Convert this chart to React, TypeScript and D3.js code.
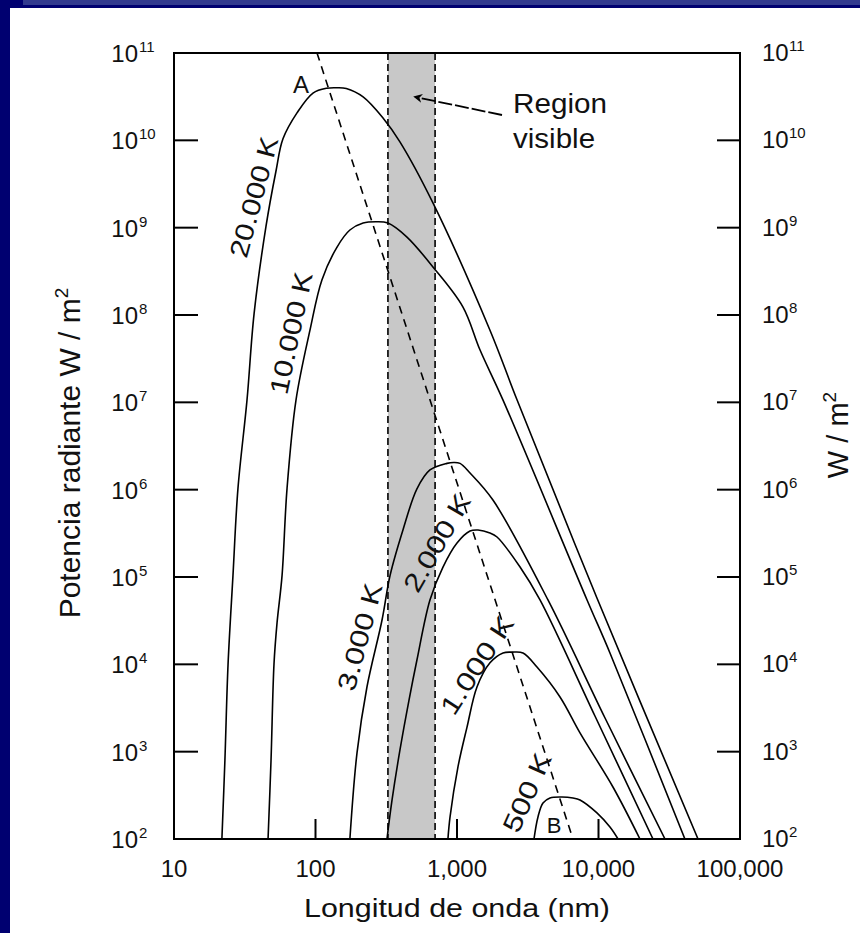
import React from 'react';
import * as d3 from 'd3';

const W = 860;
const H = 933;
const M = { left: 174, right: 740, top: 53, bottom: 839 };

const xTicks = [10, 100, 1000, 10000, 100000];
const xTickLabels = ['10', '100', '1,000', '10,000', '100,000'];
const yExponents = [2, 3, 4, 5, 6, 7, 8, 9, 10, 11];

// [wavelength nm, radiant power W/m2]
const curve20000: [number, number][] = [
  [21.8, 1e2], [22.9, 8.0e2], [24.1, 1.0e4], [26.1, 1.03e5], [28.3, 1.02e6], [32.8, 1.06e7],
  [36.8, 1.03e8], [44.7, 1.04e9], [52.5, 4.4e9], [58.9, 1.04e10], [74, 2.06e10], [96, 3.48e10],
  [120, 3.95e10], [142, 4.0e10], [165, 3.92e10], [217, 3.14e10], [300, 1.8e10], [395, 9.6e9],
  [676, 1.92e9], [1710, 6.7e7], [2655, 1.07e7], [9750, 5.75e4], [50500, 1e2],
];
const curve10000: [number, number][] = [
  [46.2, 1e2], [48.5, 8.0e2], [50.9, 1.01e4], [53.5, 3.0e4], [58.0, 1.03e5], [62.9, 1.02e6],
  [72.8, 1.06e7], [91.4, 6.7e7], [111, 2.52e8], [142, 6.0e8], [175, 9.4e8], [217, 1.13e9],
  [270, 1.17e9], [325, 1.13e9], [443, 7.8e8], [676, 3.55e8], [1100, 1.24e8], [1455, 3.97e7],
  [2115, 1.06e7], [8300, 5.46e4], [12050, 1.35e4], [40800, 1e2],
];
const curve3000: [number, number][] = [
  [175, 1e2], [196.5, 9.7e2], [231, 5.5e3], [295, 3.2e4], [336, 1.03e5], [415, 3.45e5],
  [521, 1.02e6], [644, 1.68e6], [849, 2.0e6], [950, 2.05e6], [1050, 2.0e6], [1236, 1.55e6],
  [1795, 7.6e5], [4395, 5.46e4], [11120, 2.43e3], [29500, 1e2],
];
const curve2000: [number, number][] = [
  [320, 1e2], [347.5, 2.8e2], [395, 1.04e3], [458, 3.9e3], [521, 1.12e4], [644, 5.46e4],
  [796, 1.3e5], [1000, 2.45e5], [1236, 3.36e5], [1407, 3.45e5], [1710, 3.19e5], [1918, 2.87e5],
  [2790, 1.3e5], [3860, 5.46e4], [9440, 2.56e3], [24270, 1e2],
];
const curve1000: [number, number][] = [
  [863, 1e2], [893, 1.79e2], [1016, 6.7e2], [1177, 1.91e3], [1384, 5.5e3], [1710, 1.04e4],
  [2115, 1.35e4], [2449, 1.38e4], [2926, 1.35e4], [3675, 9.3e3], [5345, 4.23e3], [7400, 1.64e3],
  [12650, 3.94e2], [19630, 1e2],
];
const curve500: [number, number][] = [
  [3500, 1e2], [3735, 1.79e2], [4053, 2.58e2], [4540, 2.95e2], [5520, 3.03e2], [6600, 2.95e2],
  [7400, 2.8e2], [9750, 1.99e2], [12050, 1.37e2], [13740, 1e2],
];

const visibleBand = [325, 700];
const wienLine: [number, number][] = [[102.5, 1e11], [6600, 1e2]];

const curveLabels = [
  { text: '20.000 K', at: [36.7, 2.24e9], angle: -75, len: 124 },
  { text: '10.000 K', at: [67.1, 6.2e7], angle: -78, len: 124 },
  { text: '3.000 K', at: [206, 2.06e4], angle: -75, len: 110 },
  { text: '2.000 K', at: [722, 2.45e5], angle: -60, len: 108 },
  { text: '1.000 K', at: [1384, 9.8e3], angle: -57, len: 112 },
  { text: '500 K', at: [3126, 3.4e2], angle: -66, len: 84 },
];

export default function App() {
  const x = d3.scaleLog().domain([10, 100000]).range([M.left, M.right]);
  const y = d3.scaleLog().domain([1e2, 1e11]).range([M.bottom, M.top]);
  const line = d3
    .line<[number, number]>()
    .x((d) => x(d[0]))
    .y((d) => y(d[1]))
    .curve(d3.curveCatmullRom.alpha(0.5));
  const curves = [curve20000, curve10000, curve3000, curve2000, curve1000, curve500];
  const font = 'Liberation Sans, Arial, Helvetica, sans-serif';

  const arrowStart = [x(2080), y(1.95e10)];
  const arrowEnd = [x(505), y(3.14e10)];

  return (
    <svg
      width={W}
      height={H}
      style={{ position: 'absolute', left: 0, top: 0, display: 'block', background: '#fff' }}
      fontFamily={font}
    >
      <defs>
        <clipPath id="plot">
          <rect x={M.left} y={M.top} width={M.right - M.left} height={M.bottom - M.top} />
        </clipPath>
        <marker id="head" viewBox="0 0 10 10" refX="8" refY="5" markerWidth="9" markerHeight="9" markerUnits="userSpaceOnUse" orient="auto">
          <path d="M0,0 L10,5 L0,10 L3,5 z" fill="#000" />
        </marker>
      </defs>
      {/* frame */}
      <rect x={0} y={0} width={W} height={H} fill="#fff" />
      <rect x={0} y={0} width={W} height={8} fill="#000070" />
      <rect x={23} y={0} width={W - 23} height={5} fill="#323a8e" />
      <rect x={0} y={0} width={10} height={H} fill="#000070" />

      {/* visible band */}
      <rect
        x={x(visibleBand[0])}
        y={M.top}
        width={x(visibleBand[1]) - x(visibleBand[0])}
        height={M.bottom - M.top}
        fill="#c8c8c8"
      />
      {visibleBand.map((v) => (
        <line key={v} x1={x(v)} x2={x(v)} y1={M.top} y2={M.bottom} stroke="#000" strokeWidth={1.6} strokeDasharray="7,4" />
      ))}

      <g clipPath="url(#plot)">
        {curves.map((c, i) => (
          <path key={i} d={line(c) || ''} fill="none" stroke="#000" strokeWidth={1.6} />
        ))}
        <line
          x1={x(wienLine[0][0])}
          y1={y(wienLine[0][1])}
          x2={x(wienLine[1][0])}
          y2={y(wienLine[1][1])}
          stroke="#000"
          strokeWidth={1.6}
          strokeDasharray="8,6"
        />
      </g>

      {/* axes box */}
      <rect x={M.left} y={M.top} width={M.right - M.left} height={M.bottom - M.top} fill="none" stroke="#000" strokeWidth={2} />
      {yExponents.slice(1, -1).map((e) => (
        <g key={e}>
          <line x1={M.left} x2={M.left + 24} y1={y(10 ** e)} y2={y(10 ** e)} stroke="#000" strokeWidth={2} />
          <line x1={M.right - 23} x2={M.right} y1={y(10 ** e)} y2={y(10 ** e)} stroke="#000" strokeWidth={2} />
        </g>
      ))}
      {xTicks.slice(1, -1).map((t) => (
        <line key={t} x1={x(t)} x2={x(t)} y1={M.bottom} y2={M.bottom - 20} stroke="#000" strokeWidth={2} />
      ))}

      {/* y tick labels */}
      {yExponents.map((e) => (
        <g key={e} fill="#111">
          <text x={138} y={y(10 ** e) + 9} textAnchor="end" fontSize={24}>10</text>
          <text x={139} y={y(10 ** e) - 1} fontSize={15}>{e}</text>
          <text x={762} y={y(10 ** e) + 8} fontSize={24}>10</text>
          <text x={789} y={y(10 ** e) - 2} fontSize={15}>{e}</text>
        </g>
      ))}
      {/* x tick labels */}
      {xTicks.map((t, i) => (
        <text key={t} x={x(t)} y={877} textAnchor="middle" fontSize={24} fill="#111">
          {xTickLabels[i]}
        </text>
      ))}

      {/* axis titles */}
      <text
        x={457}
        y={917}
        textAnchor="middle"
        fontSize={25}
        fill="#111"
        textLength={306}
        lengthAdjust="spacingAndGlyphs"
      >
        Longitud de onda (nm)
      </text>
      <text transform={`translate(80,453) rotate(-90)`} textAnchor="middle" fontSize={30} fill="#111">
        Potencia radiante W / m<tspan dy={-12} fontSize={19}>2</tspan>
      </text>
      <text transform={`translate(848,435) rotate(-90)`} textAnchor="middle" fontSize={29} fill="#111">
        W / m<tspan dy={-12} fontSize={19}>2</tspan>
      </text>

      {/* curve labels */}
      {curveLabels.map((l) => (
        <text
          key={l.text}
          transform={`translate(${x(l.at[0])},${y(l.at[1])}) rotate(${l.angle})`}
          textAnchor="middle"
          dominantBaseline="central"
          fontSize={26}
          fill="#111"
          textLength={l.len}
          lengthAdjust="spacingAndGlyphs"
        >
          {l.text}
        </text>
      ))}
      <text x={x(79)} y={y(4.3e10) + 8} textAnchor="middle" fontSize={24} fill="#111">A</text>
      <text x={x(4853)} y={y(1.45e2) + 8} textAnchor="middle" fontSize={22} fill="#111">B</text>

      {/* annotation */}
      <text x={x(2490)} y={y(2.06e10)} fontSize={27} fill="#111" textLength={94} lengthAdjust="spacingAndGlyphs">
        Region
      </text>
      <text x={x(2490)} y={y(2.06e10) + 35} fontSize={27} fill="#111" textLength={82} lengthAdjust="spacingAndGlyphs">
        visible
      </text>
      <line
        x1={arrowStart[0]}
        y1={arrowStart[1]}
        x2={arrowEnd[0]}
        y2={arrowEnd[1]}
        stroke="#000"
        strokeWidth={1.8}
        strokeDasharray="14,3"
        markerEnd="url(#head)"
      />
    </svg>
  );
}
